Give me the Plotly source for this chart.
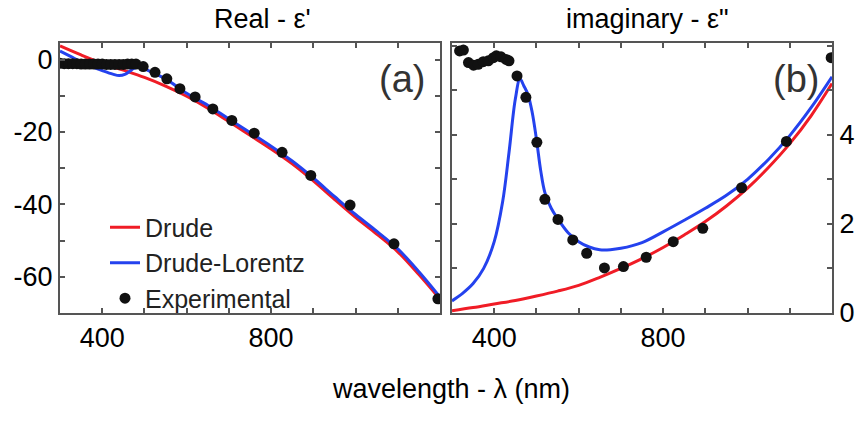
import plotly.graph_objects as go

# ---------------- data ----------------
# (a) real part
wl_drude_re = [300, 350, 400, 450, 500, 550, 600, 650, 700, 750, 800, 850, 900, 950, 1000, 1050, 1100, 1150, 1200]
eps_re_drude = [3.8, 1.3, -1.0, -2.9, -4.9, -7.3, -10.1, -13.4, -17.1, -20.9, -24.7, -28.8, -33.5, -38.6, -43.6, -48.2, -53.1, -59.4, -66.2]

wl_dl_re = [300, 325, 350, 375, 400, 425, 440, 455, 465, 475, 490, 500, 550, 600, 650, 700, 750, 800, 850, 900, 950, 1000, 1050, 1100, 1150, 1200]
eps_re_dl = [2.4, 0.9, -0.6, -1.9, -3.0, -4.0, -4.4, -4.0, -3.2, -2.4, -2.0, -2.5, -5.3, -9.3, -12.6, -16.4, -20.1, -23.9, -28.0, -32.7, -37.8, -42.8, -47.4, -52.3, -58.6, -65.6]

wl_exp_re = [300, 310, 320, 330, 340, 350, 360, 370, 380, 390, 400, 410, 420, 430, 440, 450, 460, 470, 480,
             497, 525, 553, 584, 620, 662, 707, 760, 826, 894, 987, 1091, 1195]
eps_re_exp = [-1.0, -1.1, -1.1, -1.1, -1.1, -1.2, -1.2, -1.2, -1.2, -1.2, -1.2, -1.3, -1.3, -1.3, -1.3, -1.3, -1.2, -1.2, -1.2,
              -1.9, -3.5, -5.3, -8.0, -10.3, -13.6, -16.8, -20.3, -25.6, -32.0, -40.2, -50.9, -66.1]

# (b) imaginary part
wl_drude_im = [300, 350, 400, 450, 500, 550, 600, 650, 700, 750, 800, 850, 900, 950, 1000, 1050, 1100, 1150, 1200]
eps_im_drude = [0.05, 0.12, 0.2, 0.28, 0.38, 0.49, 0.62, 0.8, 1.0, 1.22, 1.47, 1.75, 2.05, 2.4, 2.8, 3.27, 3.8, 4.42, 5.15]

wl_dl_im = [300, 325, 350, 375, 400, 420, 435, 450, 461, 470, 480, 490, 500, 510, 520, 535, 550, 575, 600, 625, 650, 675, 700, 750, 800, 850, 900, 950, 1000, 1050, 1100, 1150, 1200]
eps_im_dl = [0.27, 0.44, 0.66, 1.0, 1.6, 2.5, 3.6, 4.8, 5.25, 5.1, 4.9, 4.5, 3.9, 3.2, 2.7, 2.35, 2.12, 1.8, 1.6, 1.48, 1.42, 1.42, 1.45, 1.58, 1.82, 2.08, 2.35, 2.64, 3.0, 3.45, 3.98, 4.6, 5.3]

wl_exp_im = [318, 327, 339, 351, 362, 374, 386, 398, 405, 416, 428, 435, 454, 475, 501, 520, 551, 586, 619, 661, 706, 760, 824, 894, 986, 1092, 1198]
eps_im_exp = [5.88, 5.9, 5.62, 5.56, 5.58, 5.64, 5.66, 5.73, 5.77, 5.75, 5.69, 5.66, 5.32, 4.84, 3.83, 2.55, 2.10, 1.64, 1.34, 1.01, 1.04, 1.25, 1.60, 1.90, 2.81, 3.85, 5.73]

x_tickvals = [400, 800]
x_ticktext = ["400", "800"]
y1_tickvals = [0, -20, -40, -60]
y1_ticktext = ["0", "-20", "-40", "-60"]
y2_tickvals = [0, 2, 4]
y2_ticktext = ["0", "2", "4"]

panel_titles = ["Real - ε'", 'imaginary - ε"']
panel_tags = ["(a)", "(b)"]
x_title = "wavelength - λ (nm)"
names = ["Drude", "Drude-Lorentz", "Experimental"]

# ---------------- styling ----------------
RED = "#f01c26"
BLUE = "#2442ee"
BLK = "#111111"
AX = "#555555"
FONT = "Liberation Sans, Arial, sans-serif"

W, H = 858, 421


def px(x):
    return x / W


def py(y):
    return 1 - y / H


fig = go.Figure()

# panel (a)
fig.add_trace(go.Scatter(x=wl_drude_re, y=eps_re_drude, mode="lines", name=names[0],
                         line=dict(color=RED, width=3, shape="spline"), xaxis="x", yaxis="y", legendgroup="d"))
fig.add_trace(go.Scatter(x=wl_dl_re, y=eps_re_dl, mode="lines", name=names[1],
                         line=dict(color=BLUE, width=3, shape="spline"), xaxis="x", yaxis="y", legendgroup="dl"))
fig.add_trace(go.Scatter(x=wl_exp_re, y=eps_re_exp, mode="markers", name=names[2],
                         marker=dict(color=BLK, size=11), xaxis="x", yaxis="y", legendgroup="e"))
# panel (b)
fig.add_trace(go.Scatter(x=wl_drude_im, y=eps_im_drude, mode="lines", name=names[0], showlegend=False,
                         line=dict(color=RED, width=3, shape="spline"), xaxis="x2", yaxis="y2", legendgroup="d"))
fig.add_trace(go.Scatter(x=wl_dl_im, y=eps_im_dl, mode="lines", name=names[1], showlegend=False,
                         line=dict(color=BLUE, width=3, shape="spline"), xaxis="x2", yaxis="y2", legendgroup="dl"))
fig.add_trace(go.Scatter(x=wl_exp_im, y=eps_im_exp, mode="markers", name=names[2], showlegend=False,
                         marker=dict(color=BLK, size=11), xaxis="x2", yaxis="y2", legendgroup="e"))

TICKFONT = dict(size=27, color="black", family=FONT)
ydom = [py(324.5), py(45)]

common_x = dict(range=[300, 1200], tickmode="array", tickvals=x_tickvals, ticktext=x_ticktext,
                ticks="inside", ticklen=5, tickwidth=1.5, tickcolor=AX, showline=True, linecolor=AX,
                linewidth=2, mirror="ticks", showgrid=False, zeroline=False, tickfont=TICKFONT,
                minor=dict(tickmode="linear", tick0=0, dtick=100, ticks="inside", ticklen=5,
                           tickcolor=AX, showgrid=False))

fig.update_layout(
    width=W, height=H,
    margin=dict(l=0, r=0, t=0, b=0),
    paper_bgcolor="white", plot_bgcolor="white",
    font=dict(family=FONT, color="black"),
    xaxis=dict(domain=[px(60), px(440)], anchor="y", **common_x),
    xaxis2=dict(domain=[px(452), px(832)], anchor="y2", **common_x),
    yaxis=dict(domain=ydom, anchor="x", range=[-70, 4.5], tickmode="array", tickvals=y1_tickvals,
               ticktext=y1_ticktext, ticks="inside", ticklen=5, tickwidth=1.5, tickcolor=AX,
               showline=True, linecolor=AX, linewidth=2, mirror="ticks", showgrid=False, zeroline=False,
               tickfont=TICKFONT,
               minor=dict(tickmode="linear", tick0=0, dtick=10, ticks="inside", ticklen=5,
                          tickcolor=AX, showgrid=False)),
    yaxis2=dict(domain=ydom, anchor="x2", side="right", range=[0, 6.05], tickmode="array",
                tickvals=y2_tickvals, ticktext=y2_ticktext, ticks="inside", ticklen=5, tickwidth=1.5,
                tickcolor=AX, showline=True, linecolor=AX, linewidth=2, mirror="ticks", showgrid=False,
                zeroline=False, tickfont=TICKFONT,
                minor=dict(tickmode="linear", tick0=0, dtick=1, ticks="inside", ticklen=5,
                           tickcolor=AX, showgrid=False)),
    legend=dict(x=px(105), y=py(212), xanchor="left", yanchor="top", bgcolor="rgba(0,0,0,0)",
                font=dict(size=25, color="#222", family=FONT), tracegroupgap=0),
    showlegend=True,
    hovermode=False,
)

ann = [
    dict(x=px(262), y=py(20), text=panel_titles[0], font=dict(size=27)),
    dict(x=px(647), y=py(20), text=panel_titles[1], font=dict(size=27)),
    dict(x=px(402), y=py(82), text=panel_tags[0], font=dict(size=38, color="#333")),
    dict(x=px(796), y=py(82), text=panel_tags[1], font=dict(size=38, color="#333")),
    dict(x=px(451), y=py(403), text=x_title, font=dict(size=27)),
]
for a in ann:
    fig.add_annotation(xref="paper", yref="paper", showarrow=False, xanchor="center", yanchor="middle",
                       borderpad=0, **a)

# remove the default 8px body margin so the figure sits at the window's top-left corner;
# hide the mode bar so it never covers the titles
fig.write_html("out.html", config={"displayModeBar": False},
               post_script="document.body.style.margin='0px';")
